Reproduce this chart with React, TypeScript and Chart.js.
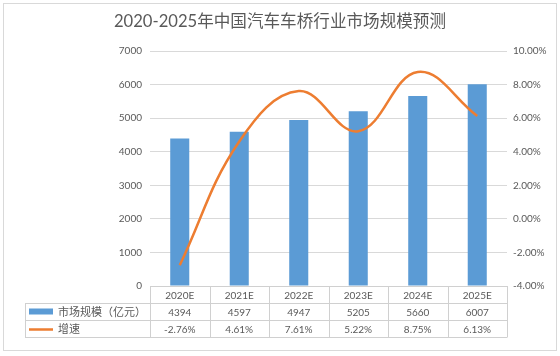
import React, { useEffect, useRef } from "react";
import { Chart, registerables } from "chart.js";

Chart.register(...registerables);

const categories = ["2020E", "2021E", "2022E", "2023E", "2024E", "2025E"];
const marketSize = [4394, 4597, 4947, 5205, 5660, 6007];
const growth = [-2.76, 4.61, 7.61, 5.22, 8.75, 6.13];
const marketLabel = "市场规模（亿元）";
const growthLabel = "增速";
const titleText = "2020-2025年中国汽车车桥行业市场规模预测";

const FONT = 'Lato, "Noto Sans CJK SC", sans-serif';
const TEXT = "#595959";
const BLUE = "#5B9BD5";
const ORANGE = "#ED7D31";
const GRID = "#D9D9D9";
const TABLE_LINE = "#D0D0D0";

const tablePlugin = {
  id: "tablePlugin",
  afterDraw(chart: any) {
    const ctx = chart.ctx as CanvasRenderingContext2D;
    const area = chart.chartArea;
    const xs = chart.scales.x;
    const n = categories.length;
    const cw = (area.right - area.left) / n;
    ctx.save();
    // outer border
    ctx.strokeStyle = GRID;
    ctx.lineWidth = 1;
    ctx.strokeRect(3.5, 3.5, 553, 347);
    // title
    ctx.fillStyle = TEXT;
    ctx.font = `16.6px ${FONT}`;
    ctx.textAlign = "center";
    ctx.textBaseline = "middle";
    ctx.fillText(titleText, 280, 22);

    const y0 = area.bottom;
    const rh = 17;
    const y1 = y0 + rh, y2 = y1 + rh, y3 = y2 + rh;
    const tl = 25;
    const r = area.right;
    ctx.strokeStyle = TABLE_LINE;
    ctx.beginPath();
    const h = (x1: number, x2: number, y: number) => {
      ctx.moveTo(x1, Math.round(y) + 0.5);
      ctx.lineTo(x2, Math.round(y) + 0.5);
    };
    const v = (x: number, ya: number, yb: number) => {
      ctx.moveTo(Math.round(x) + 0.5, ya);
      ctx.lineTo(Math.round(x) + 0.5, yb);
    };
    h(area.left, r, y0);
    h(tl, r, y1);
    h(tl, r, y2);
    h(tl, r, y3);
    v(tl, y1, y3 + 0.5);
    for (let i = 0; i <= n; i++) {
      v(area.left + i * cw, y0, y3 + 0.5);
    }
    ctx.stroke();

    ctx.font = `10px ${FONT}`;
    ctx.fillStyle = TEXT;
    ctx.textAlign = "center";
    for (let i = 0; i < n; i++) {
      const cx = xs.getPixelForValue(i);
      ctx.fillText(categories[i], cx, (y0 + y1) / 2 + 1);
      ctx.fillText(String(marketSize[i]), cx, (y1 + y2) / 2 + 1);
      ctx.fillText(growth[i].toFixed(2) + "%", cx, (y2 + y3) / 2 + 1);
    }
    // legend keys
    ctx.fillStyle = BLUE;
    ctx.fillRect(29, (y1 + y2) / 2 - 3, 24, 6);
    ctx.strokeStyle = ORANGE;
    ctx.lineWidth = 2.5;
    ctx.beginPath();
    ctx.moveTo(29, (y2 + y3) / 2 + 1);
    ctx.lineTo(53, (y2 + y3) / 2 + 1);
    ctx.stroke();
    ctx.fillStyle = TEXT;
    ctx.textAlign = "left";
    ctx.font = `11px ${FONT}`;
    ctx.fillText(marketLabel, 58, (y1 + y2) / 2 + 1);
    ctx.fillText(growthLabel, 58, (y2 + y3) / 2 + 1);
    ctx.restore();
  },
};

export default function App() {
  const ref = useRef<HTMLCanvasElement | null>(null);
  useEffect(() => {
    if (!ref.current) return;
    const chart = new Chart(ref.current, {
      type: "bar",
      data: {
        labels: categories,
        datasets: [
          {
            type: "line",
            label: growthLabel,
            data: growth,
            yAxisID: "y1",
            borderColor: ORANGE,
            backgroundColor: ORANGE,
            borderWidth: 2.5,
            pointRadius: 0,
            tension: 0.4,
            order: 0,
          } as any,
          {
            type: "bar",
            label: marketLabel,
            data: marketSize,
            yAxisID: "y",
            backgroundColor: BLUE,
            categoryPercentage: 1,
            barPercentage: 0.32,
            order: 1,
          },
        ],
      },
      options: {
        responsive: false,
        animation: false,
        layout: { padding: { top: 51, left: 0, right: 0, bottom: 0 } },
        plugins: {
          legend: { display: false },
          title: { display: false },
          tooltip: { enabled: false },
        },
        scales: {
          x: {
            grid: { display: false, drawTicks: false },
            border: { display: false },
            ticks: { display: false },
            afterFit: (s: any) => {
              s.height = 70;
            },
          },
          y: {
            position: "left",
            min: 0,
            max: 7000,
            ticks: {
              stepSize: 1000,
              color: TEXT,
              font: { family: FONT, size: 10 },
              padding: 8,
              callback: (val: any) => (val === 0 ? "0" : String(val)),
            },
            grid: {
              color: (c: any) => (c.tick && c.tick.value === 0 ? "rgba(0,0,0,0)" : GRID),
              drawTicks: false,
            },
            border: { display: false },
            afterFit: (s: any) => {
              s.width = 150;
            },
          },
          y1: {
            position: "right",
            min: -4,
            max: 10,
            ticks: {
              stepSize: 2,
              color: TEXT,
              font: { family: FONT, size: 10 },
              padding: 6,
              callback: (val: any) => Number(val).toFixed(2) + "%",
            },
            grid: { display: false, drawTicks: false },
            border: { display: false },
            afterFit: (s: any) => {
              s.width = 53;
            },
          },
        },
      },
      plugins: [tablePlugin],
    });
    return () => chart.destroy();
  }, []);
  return (
    <div style={{ position: "fixed", left: 0, top: 0, width: 560, height: 356, background: "#fff" }}>
      <canvas ref={ref} width={560} height={356} style={{ display: "block" }} />
    </div>
  );
}
